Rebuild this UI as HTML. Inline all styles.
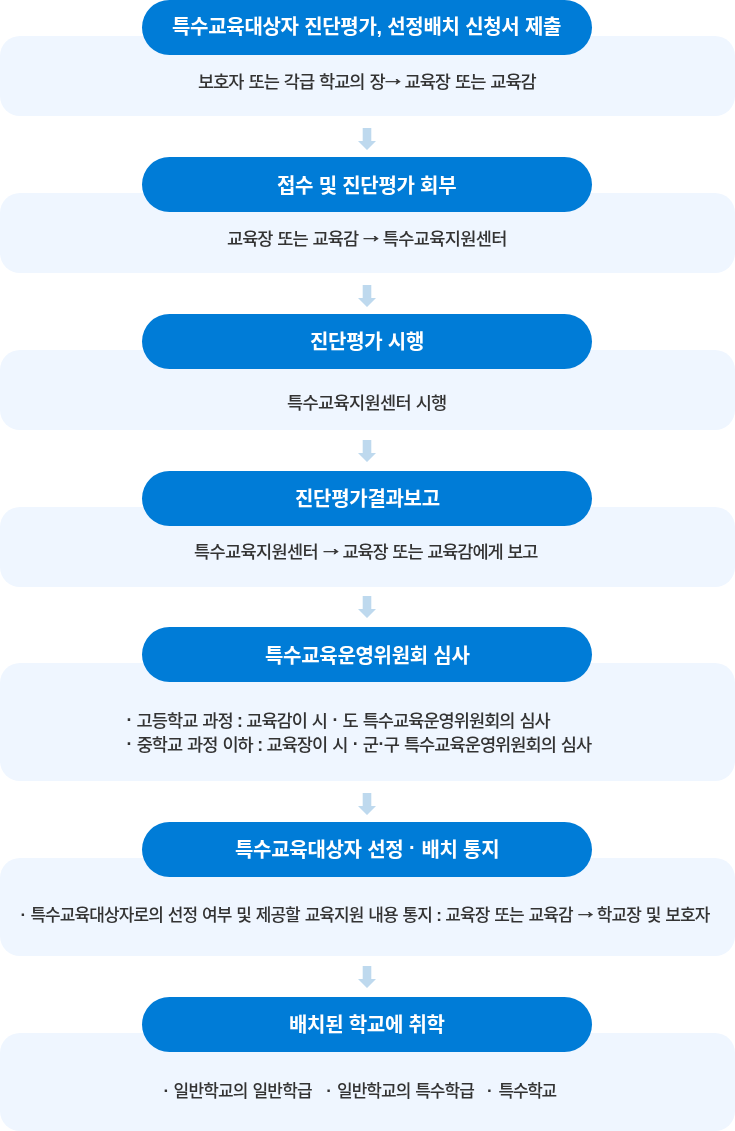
<!DOCTYPE html>
<html lang="ko">
<head>
<meta charset="utf-8">
<title>특수교육대상자 선정·배치 절차</title>
<style>
*{margin:0;padding:0;box-sizing:border-box}
html,body{width:735px;height:1131px;background:#fff;overflow:hidden}
body{position:relative;font-family:"Liberation Sans","Noto Sans CJK KR",sans-serif;color:#333}
.box{position:absolute;left:0;width:735px;background:#eff6ff;border-radius:20px}
.pill{position:absolute;left:142px;width:450px;height:55px;border-radius:28px;background:#007cd7;color:#fff;
 font-weight:700;font-size:20px;line-height:55px;text-align:center;letter-spacing:-0.3px;word-spacing:0.2px;white-space:nowrap}
.pill span{display:inline-block;position:relative;will-change:transform}
.desc{position:absolute;height:26px;line-height:26px;font-size:17.6px;font-weight:500;letter-spacing:-1.0px;word-spacing:1.0px;white-space:nowrap;color:#333;will-change:transform}
.ar{display:inline-block;font-size:1.136em;line-height:0;letter-spacing:0;position:relative;top:-0.165em;margin:0 -0.1675em 0 -0.0825em;transform:scaleX(1.2);-webkit-text-stroke:0.55px currentColor}
.g{word-spacing:0.75px}
.g2{word-spacing:0.3px}
.i2{letter-spacing:-0.95px;margin-left:0.7px}
.i3{letter-spacing:-1.37px;margin-left:1.5px}
.w{letter-spacing:-0.7px}
.c{font-weight:700;margin:0 -0.03em}
.desc .m{font-weight:700;top:-0.04em;margin:0 0.02em 0 0.03em}
.m{position:relative;top:-0.11em;margin-right:0.05em}
.pill .m{top:-0.145em;margin:0 0.02em}
.arrow{position:absolute;left:358px;width:18px;height:22px}
</style>
</head>
<body>
<div class="box" style="top:36px;height:80px"></div>
<div class="pill" style="top:0px"><span id="t1" style="top:0px">특수교육대상자 진단평가, 선정배치 신청서 제출</span></div>
<p class="desc" id="d1" style="left:198.4px;top:69px;letter-spacing:-1px">보호자 또는 각급 학교의 장<span class="ar">→</span> 교육장 또는 교육감</p>
<svg class="arrow" style="top:128px" viewBox="0 0 18 22"><path d="M4.7 0h8.6v13h4.7l-9 9-9-9h4.7z" fill="#bed9ee"/></svg>
<div class="box" style="top:193px;height:80px"></div>
<div class="pill" style="top:157px"><span id="t2" style="top:2px">접수 및 진단평가 회부</span></div>
<p class="desc" id="d2" style="left:227.2px;top:226px;letter-spacing:-1.02px">교육장 또는 교육감 <span class="ar">→</span> <span class="w">특수교육지원센터</span></p>
<svg class="arrow" style="top:285px" viewBox="0 0 18 22"><path d="M4.7 0h8.6v13h4.7l-9 9-9-9h4.7z" fill="#bed9ee"/></svg>
<div class="box" style="top:350px;height:80px"></div>
<div class="pill" style="top:314px"><span id="t3" style="top:1px">진단평가 시행</span></div>
<p class="desc" id="d3" style="left:287px;top:390px;letter-spacing:-0.94px"><span class="w">특수교육지원센터</span> 시행</p>
<svg class="arrow" style="top:440px" viewBox="0 0 18 22"><path d="M4.7 0h8.6v13h4.7l-9 9-9-9h4.7z" fill="#bed9ee"/></svg>
<div class="box" style="top:507px;height:80px"></div>
<div class="pill" style="top:471px"><span id="t4" style="top:1px">진단평가결과보고</span></div>
<p class="desc" id="d4" style="left:194px;top:539px;letter-spacing:-1.13px"><span class="w">특수교육지원센터</span> <span class="ar">→</span> 교육장 또는 교육감에게 보고</p>
<svg class="arrow" style="top:596px" viewBox="0 0 18 22"><path d="M4.7 0h8.6v13h4.7l-9 9-9-9h4.7z" fill="#bed9ee"/></svg>
<div class="box" style="top:663px;height:118px"></div>
<div class="pill" style="top:627px"><span id="t5" style="top:2px">특수교육운영위원회 심사</span></div>
<p class="desc" id="d5" style="left:126.2px;top:708px;letter-spacing:-1px"><span class="m">·</span> 고등학교 과정 <span class="c">:</span> 교육감이 시 <span class="m">·</span> 도 특수교육운영위원회의 심사</p>
<p class="desc" id="d6" style="left:126.2px;top:732px;letter-spacing:-0.99px"><span class="m">·</span> 중학교 과정 이하 <span class="c">:</span> 교육장이 시 <span class="m">·</span> 군<span class="m">·</span>구 특수교육운영위원회의 심사</p>
<svg class="arrow" style="top:793px" viewBox="0 0 18 22"><path d="M4.7 0h8.6v13h4.7l-9 9-9-9h4.7z" fill="#bed9ee"/></svg>
<div class="box" style="top:858px;height:98px"></div>
<div class="pill" style="top:822px"><span id="t6" style="top:1px">특수교육대상자 선정 <span class="m">·</span> 배치 통지</span></div>
<p class="desc" id="d7" style="left:19.6px;top:903px;letter-spacing:-0.92px;font-size:17.0px"><span class="m">·</span> 특수교육대상자로의 선정 여부 및 제공할 교육지원 내용 통지 <span class="c">:</span> 교육장 또는 교육감 <span class="ar">→</span> 학교장 및 보호자</p>
<svg class="arrow" style="top:966px" viewBox="0 0 18 22"><path d="M4.7 0h8.6v13h4.7l-9 9-9-9h4.7z" fill="#bed9ee"/></svg>
<div class="box" style="top:1033px;height:98px"></div>
<div class="pill" style="top:997px"><span id="t7" style="top:1px">배치된 학교에 취학</span></div>
<p class="desc" id="d8" style="left:162.7px;top:1079px;letter-spacing:-0.83px;font-size:17.0px"><span class="m">·</span> 일반학교의 일반학급<span class="g"> &nbsp; </span><span class="m">·</span> <span class="i2">일반학교의 특수학급</span><span class="g g2"> &nbsp; </span><span class="m">·</span> <span class="i3">특수학교</span></p>
</body>
</html>
